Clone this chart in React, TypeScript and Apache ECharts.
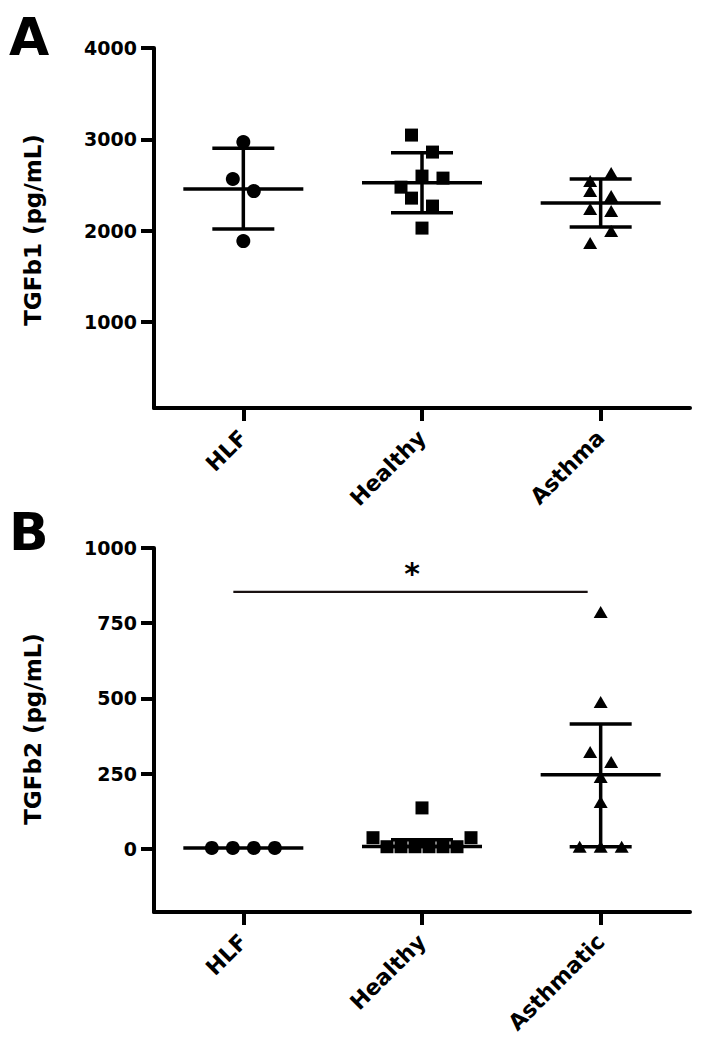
import React, { useEffect, useRef } from "react";
import * as echarts from "echarts";

// ---------- data ----------
const categoriesA = ["HLF", "Healthy", "Asthma"];
const categoriesB = ["HLF", "Healthy", "Asthmatic"];

// Panel A: TGFb1 (pg/mL), individual values per group (entry order)
const tgfb1HLF = [2971, 2566, 2434, 1887];
const tgfb1Healthy = [3047, 2861, 2477, 2598, 2576, 2357, 2270, 2029];
const tgfb1Asthma = [2544, 2631, 2434, 2379, 2237, 2215, 1865, 1996];
// mean and mean±SD
const tgfb1Mean = [2456, 2525, 2303];
const tgfb1High = [2902, 2853, 2565];
const tgfb1Low = [2018, 2196, 2040];

// Panel B: TGFb2 (pg/mL)
const tgfb2HLF = [3, 3, 3, 3];
const tgfb2Healthy = [37, 7, 7, 7, 7, 7, 7, 37, 136];
const tgfb2Asthmatic = [787, 488, 322, 289, 239, 156, 7, 7, 7];
// median with interquartile range
const tgfb2Median = [3, 8, 246];
const tgfb2High = [3, 30, 415];
const tgfb2Low = [3, 8, 7];

const yTicksA = [1000, 2000, 3000, 4000];
const yTicksB = [0, 250, 500, 750, 1000];
const xTicks = [0, 1, 2];

// significance bracket in panel B
const sigFrom = 0;
const sigTo = 2;
const sigLevel = 854;
const sigLabel = "*";

// ---------- layout ----------
const FONT = "DejaVu Sans";
const GRID_LEFT = 154;
const GRID_W = 536;
const A_TOP = 48;
const A_H = 360;
const B_TOP = 548;
const B_H = 364;
const A_MIN = 60;
const A_MAX = 4000;
const B_MIN = -210;
const B_MAX = 1000;
const SYM = 14;
const CAT_PX = GRID_W / 3;

function swarm(values: number[], cat: number, pxPerUnit: number) {
  const order = values.map((_, i) => i).sort((a, b) => values[b] - values[a]);
  const rows: number[][] = [];
  let cur: number[] = [];
  let start = 0;
  const thr = (1.25 * SYM) / pxPerUnit;
  order.forEach((i) => {
    if (cur.length && start - values[i] < thr) cur.push(i);
    else {
      if (cur.length) rows.push(cur);
      cur = [i];
      start = values[i];
    }
  });
  if (cur.length) rows.push(cur);
  const out: number[][] = new Array(values.length);
  rows.forEach((r) => {
    r.sort((a, b) => a - b);
    const n = r.length;
    const step = n > 1 ? Math.min(1.5 * SYM, 98 / (n - 1)) : 0;
    r.forEach((idx, k) => {
      out[idx] = [cat + ((k - (n - 1) / 2) * step) / CAT_PX, values[idx]];
    });
  });
  return out;
}

const barRender = (params: any, api: any) => {
  const x = api.value(0);
  const c = api.coord([x, api.value(1)]);
  const h = api.coord([x, api.value(2)]);
  const l = api.coord([x, api.value(3)]);
  const style = { stroke: "#000", lineWidth: 3.5 };
  const children: any[] = [
    { type: "line", shape: { x1: c[0] - 60, y1: c[1], x2: c[0] + 60, y2: c[1] }, style },
  ];
  if (Math.abs(h[1] - l[1]) > 1) {
    children.push(
      { type: "line", shape: { x1: c[0], y1: h[1], x2: c[0], y2: l[1] }, style },
      { type: "line", shape: { x1: c[0] - 31, y1: h[1], x2: c[0] + 31, y2: h[1] }, style },
      { type: "line", shape: { x1: c[0] - 31, y1: l[1], x2: c[0] + 31, y2: l[1] }, style }
    );
  }
  return { type: "group", children };
};

const sigRender = (params: any, api: any) => {
  const a = api.coord([api.value(0), api.value(2)]);
  const b = api.coord([api.value(1), api.value(2)]);
  return {
    type: "group",
    children: [
      { type: "line", shape: { x1: a[0] - 10, y1: a[1], x2: b[0] - 13, y2: b[1] }, style: { stroke: "#1a1212", lineWidth: 2.2 } },
      {
        type: "text",
        x: (a[0] + b[0]) / 2 - 10,
        y: a[1] - 18,
        style: { text: sigLabel, fontSize: 30, fontWeight: "bold", fontFamily: FONT, fill: "#000", align: "center", verticalAlign: "middle" },
      },
    ],
  };
};

function xAxis(gridIndex: number, cats: string[]) {
  return {
    type: "value",
    gridIndex,
    min: -0.5,
    max: 2.5,
    splitLine: { show: false },
    axisLine: { show: true, onZero: false, lineStyle: { color: "#000", width: 4 } },
    axisTick: { show: true, customValues: xTicks, length: 13, lineStyle: { color: "#000", width: 4 } },
    axisLabel: {
      customValues: xTicks,
      formatter: (v: number) => cats[Math.round(v)] || "",
      rotate: 45,
      margin: 26,
      color: "#000",
      fontFamily: FONT,
      fontWeight: "bold",
      fontSize: 22,
    },
  };
}

function yAxis(gridIndex: number, min: number, max: number, ticks: number[]) {
  return {
    type: "value",
    gridIndex,
    min,
    max,
    splitLine: { show: false },
    axisLine: { show: true, onZero: false, lineStyle: { color: "#000", width: 4 } },
    axisTick: { show: true, customValues: ticks, length: 13, lineStyle: { color: "#000", width: 4 } },
    axisLabel: {
      customValues: ticks,
      formatter: (v: number) => String(v),
      margin: 17,
      color: "#000",
      fontFamily: FONT,
      fontWeight: "bold",
      fontSize: 19,
    },
  };
}

function scatter(idx: number, data: number[][], symbol: string, size: any) {
  return {
    type: "scatter",
    xAxisIndex: idx,
    yAxisIndex: idx,
    data,
    symbol,
    symbolSize: size,
    itemStyle: { color: "#000", opacity: 1 },
    silent: true,
    z: 3,
  };
}

export default function App() {
  const ref = useRef<HTMLDivElement>(null);
  useEffect(() => {
    if (!ref.current) return;
    const chart = echarts.init(ref.current, null, { renderer: "svg" });
    const pxA = A_H / (A_MAX - A_MIN);
    const pxB = B_H / (B_MAX - B_MIN);
    const barsA = tgfb1Mean.map((m, i) => [i, m, tgfb1High[i], tgfb1Low[i]]);
    const barsB = tgfb2Median.map((m, i) => [i, m, tgfb2High[i], tgfb2Low[i]]);
    const titleStyle = { fontFamily: FONT, fontWeight: "bold", fontSize: 23, fill: "#000", align: "center", verticalAlign: "middle" };
    const letterStyle = { fontFamily: FONT, fontWeight: "bold", fontSize: 52, fill: "#000", align: "left", verticalAlign: "middle" };
    chart.setOption({
      animation: false,
      backgroundColor: "#fff",
      grid: [
        { left: GRID_LEFT, top: A_TOP, width: GRID_W, height: A_H, outerBoundsMode: "none" },
        { left: GRID_LEFT, top: B_TOP, width: GRID_W, height: B_H, outerBoundsMode: "none" },
      ],
      xAxis: [xAxis(0, categoriesA), xAxis(1, categoriesB)],
      yAxis: [yAxis(0, A_MIN, A_MAX, yTicksA), yAxis(1, B_MIN, B_MAX, yTicksB)],
      graphic: [
        { type: "text", x: 9, y: 37, style: { ...letterStyle, text: "A" } },
        { type: "text", x: 9, y: 532, style: { ...letterStyle, text: "B" } },
        { type: "text", x: 33, y: 230, rotation: Math.PI / 2, style: { ...titleStyle, text: "TGFb1 (pg/mL)" } },
        { type: "text", x: 33, y: 729, rotation: Math.PI / 2, style: { ...titleStyle, text: "TGFb2 (pg/mL)" } },
      ],
      series: [
        { type: "custom", xAxisIndex: 0, yAxisIndex: 0, data: barsA, renderItem: barRender, encode: { x: 0, y: [1, 2, 3] }, silent: true, z: 2 },
        { type: "custom", xAxisIndex: 1, yAxisIndex: 1, data: barsB, renderItem: barRender, encode: { x: 0, y: [1, 2, 3] }, silent: true, z: 2 },
        { type: "custom", xAxisIndex: 1, yAxisIndex: 1, data: [[sigFrom, sigTo, sigLevel]], renderItem: sigRender, encode: { x: [0, 1], y: 2 }, silent: true, z: 2 },
        scatter(0, swarm(tgfb1HLF, 0, pxA), "circle", SYM),
        scatter(0, swarm(tgfb1Healthy, 1, pxA), "rect", 13),
        scatter(0, swarm(tgfb1Asthma, 2, pxA), "triangle", [14, 12]),
        scatter(1, swarm(tgfb2HLF, 0, pxB), "circle", SYM),
        scatter(1, swarm(tgfb2Healthy, 1, pxB), "rect", 13),
        scatter(1, swarm(tgfb2Asthmatic, 2, pxB), "triangle", [14, 12]),
      ],
    });
    return () => chart.dispose();
  }, []);
  return <div ref={ref} style={{ width: 712, height: 1049, position: "absolute", left: 0, top: 0 }} />;
}
